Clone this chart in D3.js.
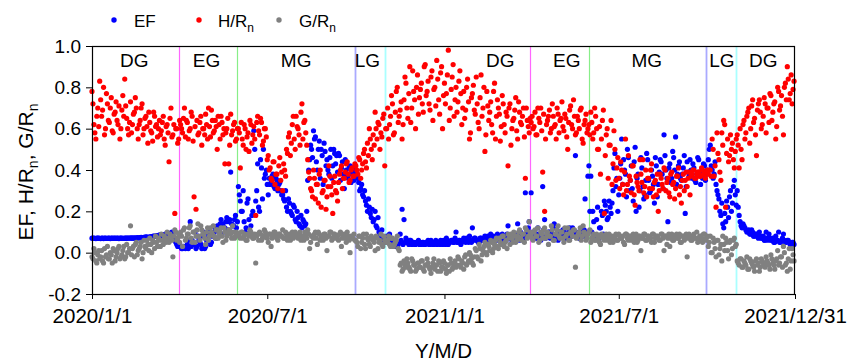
<!DOCTYPE html>
<html>
<head>
<meta charset="utf-8">
<script src="https://cdn.jsdelivr.net/npm/d3@7"></script>
<style>
  html, body { margin: 0; padding: 0; background: #fff; }
  svg { display: block; font-family: "Liberation Sans", Arial, Helvetica, sans-serif; }
</style>
</head>
<body>
<svg id="chart" width="849" height="363"></svg>
<script>
// Daily observations, stored as two interleaved runs:
// even days start 2020-01-01, odd days start 2020-01-02, each step is 2 days.
const evenStart = "2020-01-01";
const oddStart = "2020-01-02";
const stepDays = 2;

// Evaporative fraction
const efEvenDays = [
  .07,.07,.068,.07,.069,.07,.068,.07,.069,.07,.07,
  .069,.07,.07,.068,.07,.069,.07,.07,.071,.07,
  .07,.072,.07,.071,.073,.072,.074,.075,.073,.076,
  .078,.08,.079,.082,.085,.083,.088,.09,.086,.092,
  .095,.08,.06,.04,.05,
  .03,.02,.025,.03,.02,.15,.06,.04,.02,.08,.05,.02,.1,.03,.07,.11,.05,.09,.12,.13,.1,.16,.14,.12,.17,.15,.39,.13,.16,.12,
  .32,.25,.2,.15,.12,.26,.1,.18,
  .59,.25,.43,.2,.41,.5,.38,.33,.36,
  .34,.38,.31,.35,.33,.3,
  .28,.25,.22,.26,.2,.18,.22,.15,.17,.13,.12,.15,.14,
  .35,.45,.5,.59,.56,.4,.54,.5,.33,.49,.45,.38,.5,.42,.48,.47,.48,.35,.44,.31,
  .4,.36,.42,.38,.35,
  .4,.36,.3,.33,.27,.25,.2,.22,.17,.15,.2,.12,.1,.08,.06,.07,
  .08,.06,.04,.05,.03,.05,.04,.09,.21,.16,
  .07,.05,.06,.04,.05,.04,.05,.04,.04,.05,
  .04,.05,.04,.06,.04,.05,.04,.05,.06,.04,
  .05,.07,.04,.05,.06,.05,.1,.05,.06,.05,
  .07,.05,.06,.08,.05,.06,.07,.06,.05,.07,
  .06,.08,.06,.07,.09,.06,.07,.06,.08,.06,
  .09,.07,.06,.13,.07,.06,.08,.07,.14,.06,
  .09,.07,.29,.08,.15,
  .29,.1,.07,.09,.08,.06,.32,.16,.08,.1,
  .07,.09,.14,.08,.06,.1,.08,.11,.07,.09,
  .12,.08,.1,.47,.09,.07,.11,.08,.26,.1,
  .42,
  .37,.2,.08,.16,.06,.12,.18,.25,.2,.17,
  .22,.24,.41,.32,.2,.36,.55,.45,.38,.5,
  .3,.42,.25,.51,.36,.22,.46,.32,.28,.48,
  .35,.3,.37,.24,.42,.33,.45,.38,.57,.4,
  .15,.43,.36,.46,.56,.38,.44,.35,.41,.19,
  .44,.37,.4,.43,.35,.38,.45,.33,.36,.42,.38,
  .45,.52,.4,.38,.33,.28,.2,.24,.12,.15,.22,.27,.2,.32,.28,
  .3,.18,.13,.14,.12,.1,.11,.09,.1,.08,
  .09,.07,.08,.07,.06,.1,.06,.07,.06,.05,
  .08,.06,.05,.06,.09,.05,.06,.05,.04,.05
];
const efOddDays = [
  .07,.069,.07,.07,.068,.07,.07,.069,.07,.068,
  .07,.07,.069,.07,.071,.07,.069,.07,.07,.071,
  .072,.07,.071,.073,.072,.074,.073,.075,.076,.074,
  .077,.079,.08,.081,.084,.086,.085,.087,.089,.091,
  .093,.1,.07,.05,.03,.04,
  .02,.03,.02,.04,.06,.03,.05,.1,.03,.06,
  .04,.08,.02,.06,.09,.04,.08,.1,.07,.11,
  .14,.09,.12,.15,.11,.16,.14,.13,.18,.15,
  .28,.2,.3,.1,.24,.16,.13,.2,
  .5,.3,.22,.45,.26,.36,.4,.28,.33,
  .37,.32,.36,.3,.34,.28,
  .26,.3,.2,.24,.19,.23,.16,.2,.14,.18,.16,.13,.2,
  .4,.52,.46,.55,.44,.5,.36,.47,.53,.42,.4,.46,.36,.5,.43,.39,.47,.41,.38,.45,
  .37,.41,.34,.39,.42,
  .38,.34,.31,.28,.3,.23,.26,.19,.21,.16,.13,.17,.09,.11,.07,.05,
  .06,.09,.05,.04,.06,.04,.05,.06,.04,.05,
  .05,.04,.06,.05,.04,.05,.06,.04,.05,.04,
  .05,.06,.04,.05,.04,.06,.05,.04,.05,.06,
  .04,.06,.05,.06,.05,.07,.05,.06,.04,.06,
  .06,.07,.05,.06,.12,.07,.06,.05,.07,.06,
  .07,.06,.08,.07,.06,.08,.07,.09,.07,.06,
  .08,.07,.09,.08,.07,.06,.09,.08,.07,.1,
  .08,.07,.09,.12,.1,
  .08,.1,.07,.12,.09,.08,.11,.07,.09,.1,
  .08,.12,.07,.09,.1,.08,.11,.09,.07,.1,
  .08,.12,.09,.1,.08,.07,.09,.11,.08,.37,
  .2,
  .1,.15,.07,.22,.12,.2,.09,.23,.16,.25,.19,.3,
  .48,.36,.28,.43,.33,.4,.27,.46,.35,.31,
  .44,.2,.38,.3,.41,.26,.35,.45,.29,.4,
  .33,.46,.27,.39,.44,.31,.47,.36,.41,.34,
  .49,.4,.33,.42,.36,.38,.47,.32,.39,.45,
  .36,.41,.34,.46,.39,.37,.43,.35,.4,
  .5,.42,.36,.44,.3,.26,.18,.14,.19,.25,.17,.3,.24,.35,.23,
  .22,.15,.12,.13,.11,.1,.09,.11,.08,.09,
  .08,.1,.07,.08,.06,.07,.09,.06,.07,.05,
  .06,.1,.05,.07,.06,.05,.06,.04,.05,.04
];

// Sensible heat flux over net radiation
const hRnEvenDays = [
  .78,.62,.55,.7,.83,.66,.8,.6,.72,.63,
  .75,.58,.68,.64,.71,.6,.76,.84,.65,.57,
  .73,.62,.68,.7,.55,.64,.72,.6,.66,.53,
  .63,.58,.68,.61,.56,.64,.59,.66,.52,.62,
  .44,.7,.57,.19,.6,.55,
  .62,.58,.7,.64,.55,.6,.66,.27,.21,.57,
  .63,.52,.6,.67,.55,.61,.69,.58,.64,.5,
  .62,.66,.57,.43,.6,.43,.67,.59,.63,.55,
  .6,.41,.55,.62,.5,.58,.64,.53,.61,.18,
  .66,.57,.63,.54,.6,.45,.4,.36,.44,.33,
  .38,.42,.35,.3,.4,.5,.56,.47,.62,.55,
  .66,.6,.52,.72,.63,.58,.45,.36,.3,.4,
  .26,.33,.38,.22,.3,.35,.27,.42,.32,.19,
  .37,.29,.34,.4,.31,.36,.43,.38,.35,.41,
  .37,
  .42,.38,.45,.4,.48,.44,.53,.6,.5,.57,.68,.55,.62,.58,.65,.42,
  .6,.55,.66,.72,.58,.78,.63,.69,.55,.74,
  .82,.65,.9,.7,.78,.6,.86,.75,.82,.68,
  .91,.78,.72,.85,.64,.8,.93,.74,.87,.6,
  .82,.77,.98,.7,.85,.66,.8,.73,.88,.62,
  .78,.69,.84,.55,.75,.81,.67,.72,.6,.86,
  .7,.49,.78,.64,.73,.58,.82,.66,.7,.54,
  .76,.62,.68,.42,.72,.6,.65,.75,.55,.68,
  .62,.7,.36,.64,.58,
  .63,.6,.68,.57,.65,.7,.39,.2,.62,.66,
  .58,.72,.61,.55,.67,.64,.73,.59,.65,.5,
  .69,.62,.74,.57,.66,.6,.7,.53,.64,.58,
  .62,
  .68,.55,.7,.6,.5,.38,.64,.19,.57,.36,
  .52,.33,.59,.35,.46,.31,.4,.28,.55,.33,
  .37,.29,.42,.23,.34,.3,.38,.45,.32,.27,
  .36,.4,.31,.34,.28,.2,.38,.33,.41,.3,
  .36,.27,.39,.34,.31,.37,.28,.24,.38,.35,
  .32,.39,.37,.4,.36,.38,.39,.37,.4,.38,.39,
  .38,.4,.55,.37,.22,.48,.39,.58,.64,.22,.55,.47,.5,.45,.49,
  .57,.41,.5,.62,.55,.66,.7,.6,.74,.65,
  .47,.72,.68,.62,.75,.58,.7,.77,.64,.72,
  .55,.8,.69,.76,.57,.82,.9,.74,.86,.79
];
const hRnOddDays = [
  .72,.58,.66,.61,.74,.69,.57,.77,.64,.7,
  .59,.67,.73,.62,.55,.69,.66,.71,.6,.63,
  .58,.67,.75,.6,.62,.7,.57,.65,.61,.68,
  .59,.54,.66,.62,.6,.57,.63,.55,.61,.58,
  .65,.56,.62,.6,.53,.64,
  .6,.65,.56,.63,.59,.68,.54,.61,.64,.58,
  .66,.6,.57,.62,.7,.56,.64,.59,.61,.66,
  .55,.63,.6,.58,.65,.52,.57,.62,.54,.6,
  .58,.63,.52,.6,.56,.49,.62,.57,.55,
  .63,.59,.65,.52,.6,.56,.47,
  .41,.35,.44,.38,.31,.46,.39,.43,.37,
  .48,.58,.53,.66,.5,.61,.57,.68,.55,.64,.52,
  .39,.31,.27,.36,.33,.24,.4,.29,.35,.21,.32,.37,.28,.34,.3,.25,.38,
  .42,.36,.39,.44,.34,.4,.37,.43,
  .4,.46,.36,.43,.5,.41,.47,.55,.45,.52,.6,.63,.5,.56,.67,.6,
  .7,.62,.76,.57,.68,.8,.66,.73,.62,.85,
  .7,.77,.63,.88,.74,.8,.67,.79,.72,.9,
  .76,.83,.69,.88,.79,.71,.84,.67,.9,.76,
  .72,.86,.64,.79,.91,.74,.68,.83,.77,.7,
  .65,.8,.73,.58,.77,.69,.85,.63,.75,.66,
  .8,.57,.71,.68,.62,.78,.55,.74,.67,.61,
  .72,.58,.66,.7,.52,.64,.69,.59,.73,.63,
  .66,.56,.7,.61,.65,
  .66,.61,.57,.7,.63,.59,.67,.55,.64,.69,
  .6,.66,.62,.7,.58,.65,.61,.67,.56,.63,
  .71,.6,.66,.58,.64,.69,.55,.62,.67,.6,
  .57,
  .63,.58,.66,.5,.61,.55,.69,.47,.6,.52,.64,.43,
  .5,.41,.36,.44,.33,.39,.3,.47,.35,.42,.28,.37,
  .32,.45,.34,.29,.4,.36,.31,.43,.27,.35,.38,.3,
  .36,.31,.4,.34,.29,.38,.33,.26,.37,.41,.32,.35,.3,
  .39,.36,.28,.38,.4,.36,.39,.37,.41,.38,.36,.4,
  .4,.37,.5,.42,.58,.45,.35,.52,.62,.48,.44,.57,.53,.41,.55,
  .52,.6,.45,.64,.58,.68,.53,.71,.63,.57,
  .69,.74,.6,.66,.72,.7,.63,.76,.68,.73,
  .61,.78,.71,.66,.8,.74,.84,.77,.72,.83
];

// Ground heat flux over net radiation
const gRnEvenDays = [
  -.02,.02,-.04,-.01,-.03,.01,-.05,-.02,.03,-.03,
  -.01,.02,-.04,0,.03,-.02,.01,-.03,.04,0,
  .13,.02,-.02,.05,.01,.03,-.03,.06,.02,.04,
  .07,0,.05,.08,.03,.06,.09,.04,.07,.1,
  .05,.08,-.02,.11,.06,.09,
  .1,.03,.12,.07,.09,.13,.05,.1,.08,.14,
  .06,.11,.09,.04,.12,.08,.1,.13,.07,.11,
  .09,.12,.05,.1,.08,.11,.09,.13,.07,.1,
  .09,.07,.1,.08,.06,.09,.11,.08,.07,-.05,
  .09,.1,.06,.08,.1,.07,.09,.03,.08,.1,
  .07,.09,.08,.11,.07,.09,.08,.06,.1,.08,
  .09,.07,.1,.08,.06,.09,.11,.02,.08,.07,
  .1,.04,.09,.08,.06,.09,.01,.08,.1,.07,
  .09,.08,.06,.1,.07,.09,.05,.08,0,.07,
  .09,
  .06,.03,.08,.05,.09,.02,.07,.04,.08,.06,.01,.07,.05,.09,.03,.06,
  .05,.08,.03,.07,.04,.06,.02,-.06,-.09,-.04,
  -.07,-.05,-.08,-.03,-.06,-.09,-.05,-.07,-.04,-.08,
  -.06,-.03,-.07,-.1,-.05,-.08,-.06,-.04,-.09,-.07,
  -.05,-.1,-.06,-.03,-.08,-.05,-.07,-.02,-.06,-.04,
  -.08,-.01,-.05,0,-.03,-.06,.02,-.02,.04,-.04,
  .01,.05,-.01,.03,.06,0,.04,.07,.02,.05,
  .08,.03,.06,.09,.04,.07,.1,.05,.08,.11,
  .06,.09,.12,.07,.15,
  .09,.06,.11,.08,.05,.1,.07,.12,.09,.04,
  .08,.11,.06,.09,.13,.07,.1,.05,.08,.12,
  .06,.09,.11,-.07,.08,.1,.06,.13,.09,.07,
  .1,
  .05,.08,.06,.09,.07,.04,.08,.06,.09,.07,
  .05,.08,.07,.09,.06,.08,.07,.05,.09,.07,
  .08,.06,.09,.07,.05,.08,.01,.07,.09,.06,
  .08,.07,.09,.05,.08,.07,.06,.09,.01,.08,
  .07,.03,.09,.06,.08,.07,.09,.05,.08,.07,
  -.02,.09,.06,.08,.07,.1,.06,.08,.05,.09,.07,
  .03,.08,0,.05,-.02,.06,.02,-.04,.04,.07,.01,.05,-.01,.06,.03,
  -.04,-.06,-.03,-.07,-.05,-.02,-.08,-.04,-.06,-.09,
  -.03,-.05,-.07,-.04,-.06,-.02,-.05,-.08,-.03,-.06,
  -.04,.01,-.05,-.02,.03,-.06,-.09,.02,-.04,-.01
];
const gRnOddDays = [
  -.03,0,-.05,.01,-.02,-.04,.02,-.01,-.03,0,
  -.05,.01,-.02,.02,-.03,-.01,.03,-.02,0,.02,
  -.01,.03,.04,-.01,.02,.05,0,.03,.06,.01,
  .04,.06,.02,.05,.07,.03,.06,.08,.05,.07,
  .09,.06,.08,.1,.07,.05,
  .08,.11,.06,.09,.12,.07,.1,.05,.11,.08,
  .13,.09,.07,.1,.06,.12,.09,.08,.11,.07,
  .1,.08,.12,.06,.09,.11,.07,.1,.08,.09,
  .08,.1,.07,.09,.06,.08,.1,.07,.09,.08,
  .06,.09,.07,.11,.08,.05,.09,.07,.1,.08,
  .06,.09,.08,.07,.1,.06,.09,.08,.07,.1,
  .08,.09,.06,.08,.1,.07,.09,.05,.08,.09,
  .07,.1,.06,.08,.09,.07,.08,.1,.06,.09,
  .07,.08,.09,.03,.08,.07,.1,.06,.08,.07,
  .06,
  .05,.08,.02,.07,.04,.09,.06,.03,.07,.05,.08,.02,.06,.04,.08,.05,
  .06,.04,.07,.03,.05,.08,.01,
  -.05,-.08,-.06,-.03,-.07,-.09,-.04,-.06,-.08,-.05,
  -.07,-.04,-.09,-.06,-.05,-.08,-.07,-.03,-.06,-.09,
  -.05,-.07,-.04,-.08,-.06,-.09,-.05,-.07,-.04,-.06,
  -.03,-.07,-.05,-.02,-.06,-.04,-.01,-.05,-.02,.01,
  -.03,.02,-.01,.03,0,.04,.01,.05,.02,.06,
  .03,.07,.04,.08,.05,.02,.07,.09,.05,.08,
  .06,.1,.07,.09,.05,.11,.08,.1,
  .07,.1,.08,.12,.06,.09,.11,.07,.1,.08,
  .13,.06,.09,.11,.08,.1,.07,.12,.09,.06,
  .1,.08,.11,.07,.09,.12,.08,.1,.06,.09,
  .11,
  .07,.09,.06,.08,.05,.09,.07,.08,.06,.09,
  .07,.05,.08,.06,.09,.07,.08,.04,.09,.06,
  .08,.07,.05,.09,.06,.08,.07,.09,.06,.08,
  .07,.05,.09,.07,.08,.06,.09,.07,.08,.04,
  .09,.07,.06,.08,.09,.07,.05,.08,.06,.09,
  .07,.08,.06,.09,.07,.05,.08,.07,.09,.06,
  .08,
  .05,0,.07,.02,.06,-.01,.04,.08,.01,.05,-.03,.06,.02,.07,.04,
  -.05,-.03,-.07,-.04,-.06,-.08,-.03,-.05,-.07,-.04,
  -.06,-.09,-.03,-.05,-.07,-.04,-.06,-.01,-.05,-.08,
  -.03,-.06,-.02,-.07,0,-.05,-.03,-.08,.02,-.04
];

// Growth-stage boundaries and labels
const stageBoundaries = ["2020-03-31","2020-05-31","2020-09-30","2020-10-31",
                         "2021-03-31","2021-05-31","2021-09-30","2021-10-31"];
const stageColors = ["#ff66ff","#88ee88","#aaaaff","#aaffff",
                     "#ff66ff","#88ee88","#aaaaff","#aaffff"];
const stageWidths = [1.2,1.2,1.8,1.8,1.2,1.2,1.8,1.8];
const stageLabels = ["DG","EG","MG","LG","DG","EG","MG","LG","DG"];
const stageLabelDates = ["2020-02-14","2020-04-29","2020-07-31","2020-10-13",
                         "2021-02-28","2021-05-08","2021-07-30","2021-10-16","2021-11-28"];

// Axis ticks
const xTickDates = ["2020-01-01","2020-07-01","2021-01-01","2021-07-01","2021-12-31"];
const xTickLabels = ["2020/1/1","2020/7/1","2021/1/1","2021/7/1","2021/12/31"];
const yTicks = [-0.2, 0.0, 0.2, 0.4, 0.6, 0.8, 1.0];

const parse = d3.utcParse("%Y-%m-%d");

const margin = {left: 92, right: 54, top: 46, bottom: 69};
const W = 849, H = 363;
const x = d3.scaleUtc()
  .domain([parse("2020-01-01"), parse("2021-12-31")])
  .range([margin.left, W - margin.right]);
const y = d3.scaleLinear().domain([-0.2, 1.0]).range([H - margin.bottom, margin.top]);

const svg = d3.select("#chart");

// Stage boundary lines
svg.append("g").selectAll("line").data(stageBoundaries).join("line")
  .attr("x1", (d) => Math.round(x(parse(d))) + 0.5)
  .attr("x2", (d) => Math.round(x(parse(d))) + 0.5)
  .attr("y1", y(1.0)).attr("y2", y(-0.2))
  .attr("stroke", (d, i) => stageColors[i])
  .attr("stroke-width", (d, i) => stageWidths[i]);

// Stage labels
svg.append("g").selectAll("text").data(stageLabels).join("text")
  .attr("x", (d, i) => x(parse(stageLabelDates[i])))
  .attr("y", 67)
  .attr("text-anchor", "middle")
  .attr("font-size", 19)
  .attr("fill", "#000")
  .text(d => d);

// Merge the two interleaved runs into dated points
function toPoints(evenVals, oddVals) {
  const e0 = parse(evenStart), o0 = parse(oddStart);
  const pts = [];
  evenVals.forEach((v, i) => pts.push({date: d3.utcDay.offset(e0, i * stepDays), value: v}));
  oddVals.forEach((v, i) => pts.push({date: d3.utcDay.offset(o0, i * stepDays), value: v}));
  return pts.sort((a, b) => a.date - b.date);
}

const series = [
  {points: toPoints(efEvenDays, efOddDays), color: "#0000ff"},
  {points: toPoints(hRnEvenDays, hRnOddDays), color: "#ff0000"},
  {points: toPoints(gRnEvenDays, gRnOddDays), color: "#808080"}
];
series.forEach(s => {
  svg.append("g").selectAll("circle").data(s.points).join("circle")
    .attr("cx", d => x(d.date))
    .attr("cy", d => y(d.value))
    .attr("r", 2.6)
    .attr("fill", s.color);
});

// Axes
const xAxis = d3.axisBottom(x)
  .tickValues(xTickDates.map(parse))
  .tickFormat((d, i) => xTickLabels[i])
  .tickSize(5).tickPadding(9).tickSizeOuter(0);
const gx = svg.append("g").attr("transform", `translate(0,${y(-0.2)})`).call(xAxis);
gx.select(".domain").remove();
gx.selectAll("text").attr("font-size", 20.5).attr("fill", "#000")
  .attr("font-family", "'Liberation Sans', Arial, sans-serif");
gx.selectAll("line").attr("stroke", "#000");

const yAxis = d3.axisLeft(y)
  .tickValues(yTicks)
  .tickFormat(d => d.toFixed(1))
  .tickSize(6).tickPadding(5).tickSizeOuter(0);
const gy = svg.append("g").attr("transform", `translate(${margin.left},0)`).call(yAxis);
gy.select(".domain").remove();
gy.selectAll("text").attr("font-size", 19).attr("fill", "#000")
  .attr("font-family", "'Liberation Sans', Arial, sans-serif");
gy.selectAll("line").attr("stroke", "#000");

// Plot frame
svg.append("rect")
  .attr("x", margin.left + 0.5).attr("y", margin.top + 0.5)
  .attr("width", W - margin.right - margin.left - 1)
  .attr("height", H - margin.bottom - margin.top)
  .attr("fill", "none").attr("stroke", "#000").attr("stroke-width", 1.2);

// Axis titles
svg.append("text")
  .attr("transform", `translate(33,${(y(1.0) + y(-0.2)) / 2 + 2}) rotate(-90)`)
  .attr("text-anchor", "middle").attr("font-size", 21).attr("fill", "#000")
  .call(t => {
    t.append("tspan").text("EF, H/R");
    t.append("tspan").attr("font-size", 14).attr("dy", 5).text("n");
    t.append("tspan").attr("dy", -5).text(", G/R");
    t.append("tspan").attr("font-size", 14).attr("dy", 5).text("n");
  });

svg.append("text")
  .attr("x", (margin.left + W - margin.right) / 2)
  .attr("y", 358)
  .attr("text-anchor", "middle").attr("font-size", 20.5).attr("fill", "#000")
  .text("Y/M/D");

// Legend
const legendItems = [
  {name: "EF", sub: "", color: "#0000ff", cx: 114, tx: 134},
  {name: "H/R", sub: "n", color: "#ff0000", cx: 199, tx: 218},
  {name: "G/R", sub: "n", color: "#808080", cx: 279, tx: 299}
];
const lg = svg.append("g");
legendItems.forEach(it => {
  lg.append("circle").attr("cx", it.cx).attr("cy", 20).attr("r", 2.7).attr("fill", it.color);
  const t = lg.append("text").attr("x", it.tx).attr("y", 27)
    .attr("font-size", 17).attr("fill", "#000");
  t.append("tspan").text(it.name);
  if (it.sub) t.append("tspan").attr("font-size", 12).attr("dy", 5).text(it.sub);
});
</script>
</body>
</html>
